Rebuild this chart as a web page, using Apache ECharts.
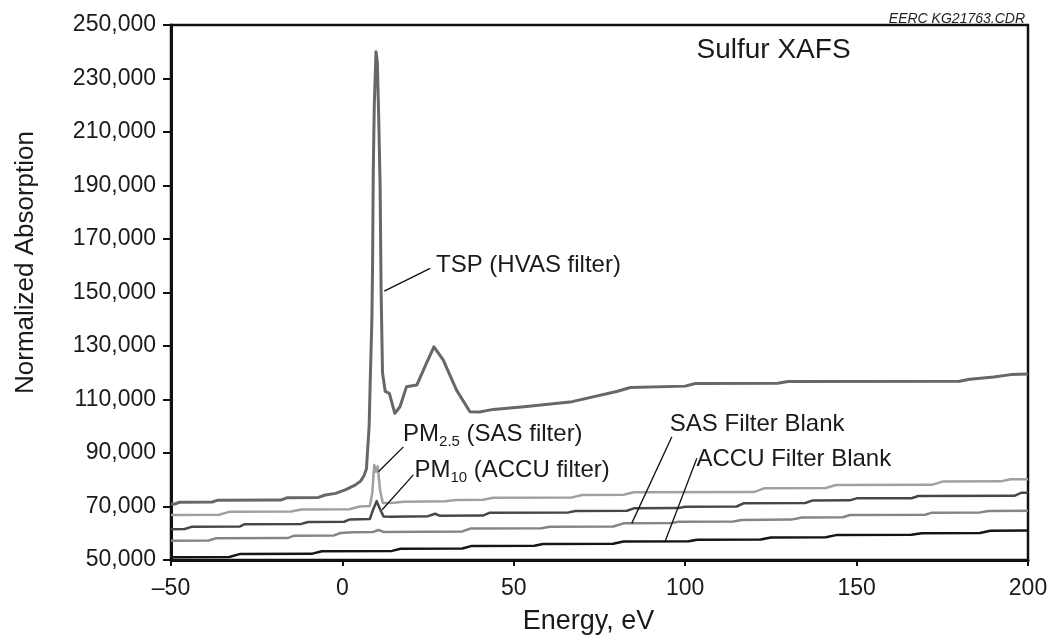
<!DOCTYPE html>
<html>
<head>
    <meta charset="utf-8">
    <title>Sulfur XAFS</title>
    <script src="https://cdn.jsdelivr.net/npm/echarts@6/dist/echarts.min.js"></script>
    <style>
        html, body { margin: 0; padding: 0; background: #fff; }
        #main { width: 1052px; height: 641px; }
    </style>
</head>
<body>
<div id="main"></div>
<script>
    // energy (eV) / normalized absorption pairs
    var tspData = [
        [-50, 70900], [-49, 70900], [-47.5, 71600], [-38, 71700], [-36.5, 72300], [-18, 72400], [-16, 73300],
        [-7, 73400], [-5, 74300], [-2, 74900], [0.8, 76200], [3.7, 78000], [5.3, 79500], [6.3, 81500],
        [7, 84000], [7.4, 92000], [7.8, 100000], [8.1, 116000], [8.6, 140000], [8.8, 160000], [9.0, 195000],
        [9.3, 220000], [9.8, 240000], [10.2, 236000], [10.6, 215000], [11.0, 190000], [11.3, 150000],
        [11.7, 120000], [12.5, 113000], [13.7, 112300], [15.3, 104800], [16.8, 107300], [18.7, 114800],
        [21.7, 115400], [24.5, 123500], [26.7, 129700], [29.4, 124800], [33.3, 113500], [37.2, 105400],
        [40, 105300], [44, 106300], [53, 107300], [67, 109200], [80, 113000], [84, 114500], [100, 115000],
        [103, 116000], [127, 116100], [130, 116700], [180, 116800], [183, 117600], [190, 118400],
        [195, 119300], [200, 119500]
    ];
    var pm25Data = [
        [-50, 66800], [-36, 66900], [-33, 68000], [-15, 68100], [-12, 68900], [2, 69000], [5, 70000],
        [8, 70200], [8.7, 75000], [9.3, 85500], [9.8, 83000], [10.3, 85000], [11.0, 76000], [11.8, 71300],
        [15, 71400], [18, 71800], [30, 72000], [33, 72400], [41, 72500], [44, 73300], [67, 73400],
        [70, 74300], [82, 74400], [85, 75300], [120, 75400], [123, 76800], [141, 76900], [144, 78050],
        [172, 78100], [175, 79300], [192, 79400], [195, 80150], [200, 80200]
    ];
    var pm10Data = [
        [-50, 61500], [-46, 61600], [-44, 62400], [-30, 62500], [-28.5, 63400], [-12, 63500], [-10, 64200],
        [0.5, 64300], [2, 65100], [8, 65300], [9, 69000], [10, 72000], [11, 69000], [12, 66300],
        [14, 66200], [25, 66400], [27, 67300], [28.5, 66500], [41, 66600], [43, 67700], [66, 67800],
        [68, 68300], [83, 68400], [85, 69300], [98, 69400], [100, 69900], [115, 70000], [117, 71200],
        [135, 71300], [137, 72200], [148, 72300], [150, 73050], [166, 73100], [168, 73900], [196, 74000],
        [198, 75100], [200, 75150]
    ];
    var sasBlankData = [
        [-50, 57200], [-39, 57300], [-37, 58100], [-16, 58200], [-14, 59100], [-2.5, 59200], [-0.5, 60100],
        [3, 60400], [9, 60500], [10.5, 61200], [12, 60500], [35, 60700], [37.5, 61800], [58, 61900],
        [60.5, 62450], [79, 62500], [82, 63700], [96, 63800], [98, 64300], [114, 64400], [116.5, 64950],
        [131, 65100], [134, 65900], [146, 66000], [148, 66800], [170, 66900], [172, 67700], [186, 67800],
        [188.5, 68300], [200, 68400]
    ];
    var accuBlankData = [
        [-50, 51000], [-33, 51100], [-30, 52200], [-9, 52300], [-6, 53300], [14.5, 53400], [17, 54200],
        [35, 54300], [37.5, 55200], [56, 55300], [58.5, 56000], [79, 56100], [82, 56900], [101, 57000],
        [103.5, 57600], [122, 57700], [125, 58400], [141, 58500], [144, 59300], [166, 59400], [169, 60000],
        [186, 60100], [189, 60900], [200, 61000]
    ];

    var xTicks = [-50, 0, 50, 100, 150, 200];
    var yTicks = [50000, 70000, 90000, 110000, 130000, 150000, 170000, 190000, 210000, 230000, 250000];

    // leader lines: [text end, curve end] in data units
    var leaders = [
        [[25.6, 159000], [12.2, 150500]],
        [[17.8, 92300], [10.5, 83000]],
        [[20.7, 81800], [11.6, 68800]],
        [[96.1, 96100], [84.4, 63700]],
        [[103.4, 88000], [94.1, 56850]]
    ];

    var FONT = '"Liberation Sans", Arial, Helvetica, sans-serif';

    var myChart = echarts.init(document.getElementById('main'));

    function fmtY(v) {
        return String(v).replace(/\B(?=(\d{3})+(?!\d))/g, ',');
    }

    function makeSeries(name, data, color, width) {
        return {
            name: name,
            type: 'line',
            data: data,
            symbol: 'none',
            smooth: false,
            silent: true,
            lineStyle: {color: color, width: width, join: 'round'}
        };
    }

    var option = {
        backgroundColor: '#fff',
        animation: false,
        grid: {
            left: 171, right: 24, top: 25, bottom: 81,
            show: true, borderColor: '#111', borderWidth: 2.5
        },
        xAxis: {
            type: 'value',
            min: xTicks[0],
            max: xTicks[xTicks.length - 1],
            interval: 50,
            name: 'Energy, eV',
            nameLocation: 'middle',
            nameGap: 48,
            nameTextStyle: {fontFamily: FONT, fontSize: 27, color: '#1a1a1a', padding: [0, 22, 0, 0]},
            axisLine: {show: true, onZero: false, lineStyle: {color: '#111', width: 3}},
            axisTick: {show: true, inside: false, length: 6, lineStyle: {color: '#111', width: 2}},
            axisLabel: {
                fontFamily: FONT, fontSize: 23, color: '#1a1a1a', margin: 17,
                formatter: function (v) { return v < 0 ? '\u2013' + Math.abs(v) : String(v); }
            },
            splitLine: {show: false}
        },
        yAxis: {
            type: 'value',
            min: yTicks[0],
            max: yTicks[yTicks.length - 1],
            interval: 20000,
            name: 'Normalized Absorption',
            nameLocation: 'middle',
            nameGap: 132,
            nameTextStyle: {fontFamily: FONT, fontSize: 26, color: '#1a1a1a', padding: [0, 0, 0, 60]},
            axisLine: {show: true, onZero: false, lineStyle: {color: '#111', width: 3}},
            axisTick: {show: true, inside: false, length: 8, lineStyle: {color: '#111', width: 2}},
            axisLabel: {fontFamily: FONT, fontSize: 23, color: '#1a1a1a', margin: 15, formatter: fmtY},
            splitLine: {show: false}
        },
        series: [
            makeSeries('ACCU Filter Blank', accuBlankData, '#151515', 2.5),
            makeSeries('SAS Filter Blank', sasBlankData, '#858585', 2.5),
            makeSeries('PM10 (ACCU filter)', pm10Data, '#474747', 2.5),
            makeSeries('PM2.5 (SAS filter)', pm25Data, '#a0a0a0', 2.5),
            makeSeries('TSP (HVAS filter)', tspData, '#676767', 3)
        ]
    };
    myChart.setOption(option);

    // annotations placed through the chart's own scales
    function px(p) {
        return myChart.convertToPixel({gridIndex: 0}, p);
    }

    var graphics = [];
    leaders.forEach(function (l) {
        var a = px(l[0]), b = px(l[1]);
        graphics.push({
            type: 'line', silent: true, z: 10,
            shape: {x1: a[0], y1: a[1], x2: b[0], y2: b[1]},
            style: {stroke: '#111', lineWidth: 1.3}
        });
    });

    function label(pos, text, size, rich) {
        var p = px(pos);
        graphics.push({
            type: 'text', silent: true, z: 10, x: p[0], y: p[1],
            style: {
                text: text, fontFamily: FONT, fontSize: size, fill: '#1a1a1a',
                verticalAlign: 'middle', align: 'left',
                rich: rich
            }
        });
    }

    var subRich = {
        a: {fontFamily: FONT, fontSize: 24, color: '#1a1a1a', lineHeight: 28},
        s: {fontFamily: FONT, fontSize: 15, color: '#1a1a1a', lineHeight: 28, padding: [16, 0, 0, 0]}
    };

    label([27.3, 160000], 'TSP (HVAS filter)', 24);
    label([17.7, 97000], '{a|PM}{s|2.5}{a| (SAS filter)}', 24, subRich);
    label([21, 83600], '{a|PM}{s|10}{a| (ACCU filter)}', 24, subRich);
    label([95.5, 100700], 'SAS Filter Blank', 24);
    label([103.3, 87700], 'ACCU Filter Blank', 24);
    label([103.3, 240500], 'Sulfur XAFS', 28);

    graphics.push({
        type: 'text', silent: true, z: 10, right: 27, top: 12,
        style: {text: 'EERC KG21763.CDR', fontFamily: FONT, fontSize: 14, fontStyle: 'italic', fill: '#222'}
    });

    myChart.setOption({graphic: graphics});
</script>
</body>
</html>
